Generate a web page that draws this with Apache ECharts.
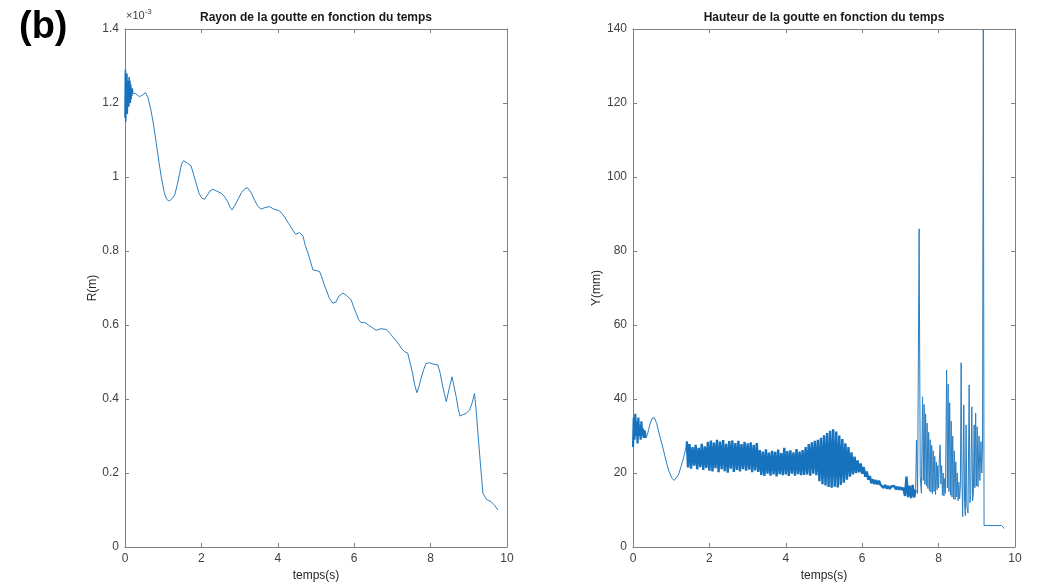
<!DOCTYPE html>
<html>
<head>
<meta charset="utf-8">
<script src="https://cdn.jsdelivr.net/npm/echarts@6/dist/echarts.min.js"></script>
<style>html,body{margin:0;padding:0;background:#fff;}#c{width:1046px;height:587px;}</style>
</head>
<body>
<div id="c"></div>
<script>
// ---------- Left panel: Rayon (x10^-3 m) vs temps (s) ----------
const tRayon = [0,0.01,0.02,0.03,0.04,0.05,0.06,0.07,0.08,0.09,0.10,0.11,0.12,0.13,0.14,0.15,0.16,0.17,0.18,0.19,0.20,
  0.28,0.38,0.46,0.54,0.6,0.68,0.75,0.82,0.89,0.95,1.03,1.09,1.15,1.22,1.3,1.37,1.43,1.48,1.53,1.63,1.73,1.8,1.86,1.94,
  2.02,2.08,2.15,2.22,2.3,2.4,2.52,2.6,2.69,2.75,2.8,2.87,2.95,3.05,3.13,3.21,3.3,3.39,3.47,3.56,3.65,3.78,3.9,4.04,
  4.1,4.17,4.28,4.39,4.47,4.52,4.57,4.61,4.66,4.72,4.79,4.86,4.92,5.0,5.09,5.15,5.21,5.27,5.35,5.44,5.52,5.6,5.7,5.8,
  5.92,5.98,6.05,6.12,6.18,6.25,6.31,6.37,6.44,6.51,6.58,6.7,6.84,6.93,7.01,7.1,7.18,7.25,7.32,7.4,7.45,7.53,7.58,7.64,
  7.7,7.75,7.82,7.88,7.97,8.08,8.19,8.25,8.32,8.37,8.41,8.48,8.56,8.62,8.67,8.72,8.77,8.85,8.93,9.02,9.09,9.15,9.2,
  9.24,9.3,9.37,9.46,9.59,9.68,9.76];
const rayonMilli = [1.16,1.29,1.15,1.27,1.18,1.28,1.17,1.26,1.20,1.25,1.19,1.27,1.21,1.26,1.20,1.25,1.21,1.24,1.22,1.24,1.227,
  1.225,1.217,1.222,1.228,1.215,1.18,1.14,1.09,1.04,1.0,0.957,0.94,0.935,0.94,0.951,0.98,1.01,1.035,1.044,1.038,1.03,1.005,0.984,0.955,
  0.942,0.94,0.95,0.962,0.967,0.962,0.956,0.948,0.933,0.918,0.911,0.922,0.938,0.958,0.968,0.971,0.958,0.938,0.922,0.913,0.917,0.92,0.913,0.909,
  0.902,0.893,0.875,0.857,0.845,0.843,0.85,0.855,0.84,0.815,0.794,0.77,0.749,0.747,0.745,0.73,0.71,0.695,0.672,0.659,0.662,0.678,0.686,0.68,
  0.668,0.65,0.632,0.614,0.606,0.607,0.605,0.6,0.595,0.59,0.586,0.59,0.588,0.578,0.568,0.557,0.546,0.535,0.528,0.524,0.522,0.469,0.44,0.417,
  0.435,0.456,0.48,0.496,0.498,0.494,0.492,0.47,0.433,0.41,0.393,0.425,0.46,0.43,0.406,0.375,0.354,0.358,0.361,0.37,0.39,0.415,0.36,
  0.307,0.23,0.145,0.129,0.122,0.112,0.1];

// ---------- Right panel: Hauteur Y (mm) vs temps (s) ----------
const tHauteur = [0,0.02,0.04,0.06,0.08,0.10,0.12,0.14,0.16,0.18,0.20,0.22,0.24,0.26,0.28,0.30,0.34,
  0.38,0.44,0.5,0.56,0.62,0.7,0.78,0.86,0.94,1.02,1.08,1.12,1.19,1.26,1.32,1.38,1.41,
  1.44,1.48,1.52,1.56,1.60,1.64,1.68,1.72,1.76,1.80,1.84,1.88,1.92,1.96,2.00,
  2.04,2.08,2.12,2.16,2.20,2.24,2.28,2.32,2.36,2.40,2.44,2.48,2.52,2.56,2.60,2.64,2.68,2.72,2.76,2.80,2.84,2.88,2.92,2.96,3.00,3.04,3.08,3.12,3.16,3.20,3.24,3.28,
  3.32,3.36,3.40,3.44,3.48,3.52,3.56,3.60,3.64,3.68,3.72,3.76,3.80,3.84,3.88,3.92,3.96,4.00,4.04,4.08,4.12,4.16,4.20,4.24,4.28,4.32,4.36,4.40,4.44,4.48,
  4.52,4.56,4.60,4.64,4.68,4.72,4.76,4.80,4.84,
  4.88,4.92,4.96,5.00,5.04,5.08,5.12,5.16,5.20,5.24,5.28,5.32,5.36,5.40,5.44,5.48,5.52,5.56,5.60,5.64,
  5.68,5.72,5.76,5.80,5.84,5.88,5.92,5.96,6.00,6.04,6.08,6.12,6.16,6.20,
  6.24,6.28,6.32,6.36,6.40,6.44,6.48,6.52,6.56,6.60,6.64,6.68,6.72,6.76,6.80,6.84,6.88,6.92,6.96,7.00,7.04,7.08,
  7.12,7.16,7.20,7.24,7.28,7.32,7.36,7.40,7.42,7.45,7.49,7.52,7.55,7.58,
  7.60,7.62,7.64,7.66,7.68,7.70,7.72,7.74,7.76,7.78,7.80,7.82,7.84,7.86,7.88,7.90,7.92,7.94,7.96,7.98,8.00,8.02,8.04,8.06,8.08,8.10,8.12,8.14,8.16,8.18,
  8.21,8.23,8.25,8.27,8.29,8.31,8.33,8.35,8.37,8.39,8.41,8.43,8.45,8.47,8.49,8.51,8.53,8.55,8.57,
  8.59,8.61,8.63,8.66,8.68,8.70,8.72,8.74,8.77,8.80,8.82,8.84,8.87,8.89,8.91,8.93,8.95,8.97,8.99,9.01,9.03,9.06,9.08,9.11,9.13,9.15,
  9.17,9.19,9.40,9.65,9.72];
const hauteurMm = [27,35,29,36,30,34,28,35,30,33,29,34,30,32,29.5,31.5,29.5,
  30.5,33,34.8,34.9,33.4,30,27,23.5,20.5,18.6,18.0,18.3,19.5,21.8,24,26.5,28.5,
  21.5,27.8,21.2,27,22,27.6,21,26.8,21.6,27.9,20.8,27.2,21.4,28.4,20.6,
  28.8,20.4,28.2,21.3,29,20.2,28.5,21,28.9,20.5,27.9,20.1,28.6,21.2,28.8,20.3,28.1,20.8,28.7,20.4,27.8,21,28.4,20.6,28,20.9,28.3,20.2,27.6,20.7,28.1,20.3,
  26.2,19.5,25.8,19.2,26.4,19.8,25.5,19.3,26,19.6,25.7,19.1,26.3,19.7,25.4,19.4,26.8,19.6,25.9,19.2,26.1,19.8,25.6,19.3,26.5,19.7,25.8,19.4,26.2,19.5,
  27,19.6,27.8,19.3,28.3,19.8,28.7,19.4,29,
  17.8,29.5,17,30.2,16.6,30.8,16.2,31.4,16,31.8,16.3,31.2,16.1,30.1,16.8,29.2,17.4,28,18.2,27,
  19,25.6,19.6,24.4,20,23.4,20.2,22.6,19.8,21.6,19,20.4,18.2,19.2,
  17.2,18.3,17,18.1,16.9,17.9,16.8,17,16,16.8,15.8,16.5,15.7,16.4,15.9,16.5,15.6,16.3,15.5,16.2,15.4,16,
  13.8,19,13.5,16.6,13.2,16.8,13.4,15.5,28.9,14.5,86,19,14.5,40.6,
  18,38.5,17,36,16.5,33.5,15.8,31,15.2,29,14.8,27.5,14.4,26,15,24.5,14.2,23,15.5,22,16,24,27.6,17,22,14,20,13.8,18.5,14.5,
  47.8,16,44,15,39,14,34,13.5,30,13,26,12.8,23,13.5,20,12.5,17.5,13,16.5,
  49.8,20,8.2,38.4,12,8.5,33,11,9.2,43.8,12,14,37.9,12.5,14.6,33,16,36.2,16.5,32.5,16.3,30,18,28.5,20,27,
  140,5.8,5.8,5.8,5.0];

// tick values (axis ranges)
const xTicks = [0, 2, 4, 6, 8, 10];
const yTicksLeft = [0, 0.2, 0.4, 0.6, 0.8, 1, 1.2, 1.4];
const yTicksRight = [0, 20, 40, 60, 80, 100, 120, 140];

const FONT = '"Liberation Sans", Arial, Helvetica, sans-serif';
const AX = '#808080';
const LBL = '#404040';
const LINE = '#2b7fc2';
const DENSE = '#1672bd';

function pairs(xs, ys) { return xs.map((x, i) => [x, ys[i]]); }
function slice(xs, ys, a, b) { return pairs(xs, ys).filter(p => p[0] >= a && p[0] <= b); }

function xAx(grid, pos, showLabels, name) {
  return {
    type: 'value', gridIndex: grid, position: pos,
    min: xTicks[0], max: xTicks[xTicks.length - 1], interval: xTicks[1] - xTicks[0],
    name: name || '', nameLocation: 'middle', nameGap: 22,
    nameTextStyle: { fontFamily: FONT, fontSize: 12, color: '#262626' },
    axisLine: { show: true, onZero: false, lineStyle: { color: AX, width: 1 } },
    axisTick: { show: true, inside: true, length: 4, lineStyle: { color: AX } },
    axisLabel: { show: showLabels, fontFamily: FONT, fontSize: 12, color: LBL, margin: 6 },
    splitLine: { show: false }
  };
}
function yAx(grid, pos, ticks, showLabels, name, gap) {
  return {
    type: 'value', gridIndex: grid, position: pos,
    min: ticks[0], max: ticks[ticks.length - 1], interval: ticks[1] - ticks[0],
    name: name || '', nameLocation: 'middle', nameGap: gap || 28, nameRotate: 90,
    nameTextStyle: { fontFamily: FONT, fontSize: 12, color: '#262626' },
    axisLine: { show: true, onZero: false, lineStyle: { color: AX, width: 1 } },
    axisTick: { show: true, inside: true, length: 4, lineStyle: { color: AX } },
    axisLabel: { show: showLabels, fontFamily: FONT, fontSize: 12, color: LBL, margin: 6 },
    splitLine: { show: false }
  };
}

const chart = echarts.init(document.getElementById('c'), null, { renderer: 'canvas' });
chart.setOption({
  animation: false,
  backgroundColor: '#ffffff',
  grid: [
    { left: 125, right: 539, top: 29, bottom: 40 },
    { left: 633, right: 31, top: 29, bottom: 40 }
  ],
  xAxis: [
    xAx(0, 'bottom', true, 'temps(s)'),
    xAx(0, 'top', false),
    xAx(1, 'bottom', true, 'temps(s)'),
    xAx(1, 'top', false)
  ],
  yAxis: [
    yAx(0, 'left', yTicksLeft, true, 'R(m)', 26),
    yAx(0, 'right', yTicksLeft, false),
    yAx(1, 'left', yTicksRight, true, 'Y(mm)', 27),
    yAx(1, 'right', yTicksRight, false)
  ],
  series: [
    { type: 'line', xAxisIndex: 0, yAxisIndex: 0, data: slice(tRayon, rayonMilli, 0, 0.2),
      showSymbol: false, lineStyle: { color: DENSE, width: 1.6 }, silent: true },
    { type: 'line', xAxisIndex: 0, yAxisIndex: 0, data: slice(tRayon, rayonMilli, 0.2, 10),
      showSymbol: false, lineStyle: { color: LINE, width: 1 }, silent: true },
    { type: 'line', xAxisIndex: 2, yAxisIndex: 2, data: slice(tHauteur, hauteurMm, 0, 0.34),
      showSymbol: false, lineStyle: { color: DENSE, width: 2.2 }, silent: true },
    { type: 'line', xAxisIndex: 2, yAxisIndex: 2, data: slice(tHauteur, hauteurMm, 0.34, 1.41),
      showSymbol: false, lineStyle: { color: LINE, width: 1 }, silent: true },
    { type: 'line', xAxisIndex: 2, yAxisIndex: 2, data: slice(tHauteur, hauteurMm, 1.41, 7.40),
      showSymbol: false, lineStyle: { color: DENSE, width: 2.4 }, silent: true },
    { type: 'line', xAxisIndex: 2, yAxisIndex: 2, data: slice(tHauteur, hauteurMm, 7.40, 10),
      showSymbol: false, lineStyle: { color: LINE, width: 1 }, silent: true }
  ],
  graphic: [
    { type: 'text', x: 19, y: 28, style: { text: '(b)', fontFamily: FONT, fontWeight: 'bold', fontSize: 38,
      fill: '#000', align: 'left', verticalAlign: 'middle' } },
    { type: 'text', x: 316, y: 18, style: { text: 'Rayon de la goutte en fonction du temps', fontFamily: FONT,
      fontWeight: 'bold', fontSize: 12, fill: '#1a1a1a', align: 'center', verticalAlign: 'middle' } },
    { type: 'text', x: 824, y: 18, style: { text: 'Hauteur de la goutte en fonction du temps', fontFamily: FONT,
      fontWeight: 'bold', fontSize: 12, fill: '#1a1a1a', align: 'center', verticalAlign: 'middle' } },
    { type: 'text', x: 126, y: 24, style: { text: '{a|×10}{b|-3}', fontFamily: FONT, fill: '#404040',
      align: 'left', verticalAlign: 'bottom',
      rich: { a: { fontFamily: FONT, fontSize: 11, color: '#404040' },
              b: { fontFamily: FONT, fontSize: 8, color: '#404040', verticalAlign: 'top', padding: [0, 0, 8, 0] } } } }
  ]
});
</script>
</body>
</html>
